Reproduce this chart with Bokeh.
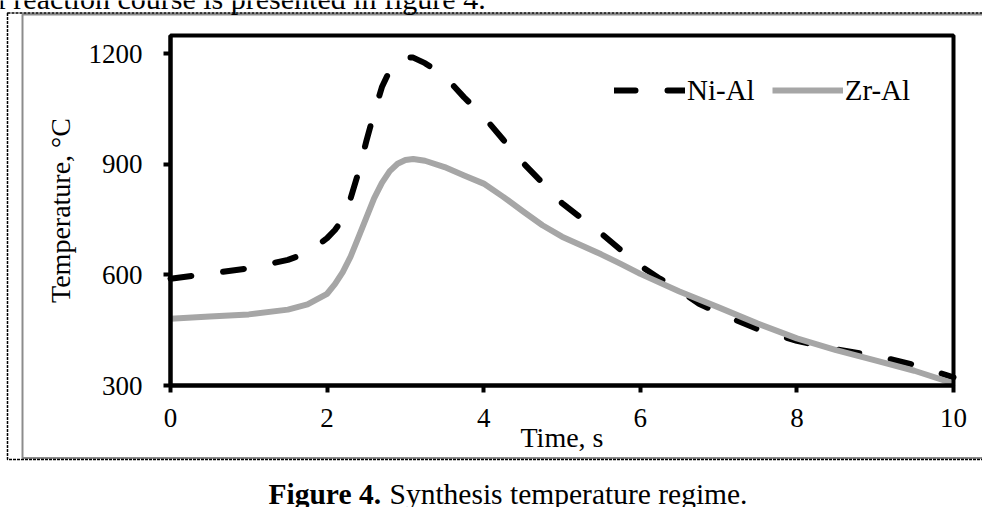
from math import pi

from bokeh.plotting import figure
from bokeh.models import (Range1d, FixedTicker, Legend, LegendItem, Label,
                          BoxAnnotation)
from bokeh.embed import file_html
from bokeh.resources import INLINE

# ---------------- data ----------------
time_nial = [0, 0.5, 1.0, 1.5, 1.75, 2.0, 2.1, 2.2, 2.3, 2.4, 2.5, 2.6, 2.7,
             2.8, 2.9, 3.0, 3.1, 3.25, 3.5, 3.75, 4.0, 4.25, 4.5, 4.75, 5.0,
             5.25, 5.5, 5.75, 6.0, 6.25, 6.5, 6.75, 7.0, 7.5, 8.0, 8.5, 9.0,
             9.5, 10.0]
temp_nial = [590, 604, 618, 641, 660, 700, 722, 752, 808, 878, 962, 1040, 1110,
             1155, 1180, 1190, 1190, 1175, 1140, 1082, 1030, 967, 905, 850, 795,
             754, 713, 668, 625, 590, 558, 522, 497, 453, 421, 398, 381,
             356, 322]

time_zral = [0, 0.5, 1.0, 1.5, 1.75, 2.0, 2.1, 2.2, 2.3, 2.4, 2.5, 2.6, 2.7,
             2.8, 2.9, 3.0, 3.1, 3.25, 3.5, 3.75, 4.0, 4.25, 4.5, 4.75, 5.0,
             5.25, 5.5, 5.75, 6.0, 6.5, 7.0, 7.5, 8.0, 8.5, 9.0, 9.5, 10.0]
temp_zral = [481, 487, 493, 506, 520, 549, 575, 608, 650, 702, 755, 808, 850,
             882, 902, 912, 915, 910, 893, 870, 848, 812, 773, 735, 704,
             680, 656, 630, 603, 555, 512, 468, 428, 396, 368, 340, 306]

x_limits = (0, 10)
y_limits = (300, 1250)
x_ticks = [0, 2, 4, 6, 8, 10]
y_ticks = [300, 600, 900, 1200]

series_names = ["Ni-Al", "Zr-Al"]
x_title = "Time, s"
y_title = "Temperature, \u00b0C"
caption_bold = "Figure 4."
caption_rest = "Synthesis temperature regime."
top_text = "l reaction course is presented in figure 4."

FONT = "Liberation Serif"

# ---------------- layout (pixels) ----------------
W, H = 982, 507
PL, PR, PT, PB = 170, 953, 35, 385     # chart plot-area edges in the picture
BASE_FIX = 9                           # label baseline correction (px)

# the Bokeh frame fills the whole canvas; map the plot area onto PL..PR/PT..PB
kx = (x_limits[1] - x_limits[0]) / (PR - PL)
ky = (y_limits[1] - y_limits[0]) / (PB - PT)
x_range = Range1d(x_limits[0] - PL * kx, x_limits[1] + (W - PR) * kx)
y_range = Range1d(y_limits[0] - (H - PB) * ky, y_limits[1] + PT * ky)

p = figure(width=W, height=H, output_backend="svg", toolbar_location=None,
           x_range=x_range, y_range=y_range,
           min_border=0, min_border_left=0, min_border_right=0,
           min_border_top=0, min_border_bottom=0,
           background_fill_color="white", border_fill_color="white")
p.title = None
p.xgrid.visible = False
p.ygrid.visible = False
p.outline_line_color = None


def sx(px):
    return px


def sy(py):
    return H - py


# ---------------- document frame ----------------
p.add_layout(BoxAnnotation(left=22, right=1010, top=sy(14), bottom=sy(457.5),
                           left_units="screen", right_units="screen",
                           top_units="screen", bottom_units="screen",
                           fill_alpha=0, line_color="#8c8c8c", line_alpha=1,
                           line_width=2, level="underlay"))
p.add_layout(BoxAnnotation(left=7, right=1010, top=sy(12.5), bottom=sy(459),
                           left_units="screen", right_units="screen",
                           top_units="screen", bottom_units="screen",
                           fill_alpha=0, line_color="black", line_alpha=1,
                           line_width=1.5, line_dash="3 1", level="underlay"))

# ---------------- axes (placed at the plot-area edges) ----------------
for ax, ticks, loc, lim in ((p.xaxis[0], x_ticks, y_limits[0], x_limits),
                            (p.yaxis[0], y_ticks, x_limits[0], y_limits)):
    ax.fixed_location = loc
    ax.bounds = lim
    ax.ticker = FixedTicker(ticks=ticks)
    ax.minor_tick_line_color = None
    ax.major_tick_in = 0
    ax.major_tick_out = 7
    ax.major_tick_line_width = 4
    ax.major_tick_line_color = "black"
    ax.axis_line_width = 4
    ax.axis_line_color = "black"
    ax.major_label_text_font = FONT
    ax.major_label_text_font_size = "27px"
    ax.major_label_text_color = "black"

p.xaxis[0].major_label_standoff = 16
p.yaxis[0].major_label_standoff = 21

# plot-area border
p.add_layout(BoxAnnotation(left=x_limits[0], right=x_limits[1],
                           bottom=y_limits[0], top=y_limits[1],
                           fill_alpha=0, line_color="black", line_alpha=1,
                           line_width=4))

# ---------------- series ----------------
r1 = p.line(time_nial, temp_nial, line_color="black", line_width=6,
            line_dash="21 32", line_cap="round", line_join="round")
r2 = p.line(time_zral, temp_zral, line_color="#a6a6a6", line_width=6,
            line_cap="butt", line_join="round")

legend = Legend(items=[LegendItem(label=series_names[0], renderers=[r1]),
                       LegendItem(label=series_names[1], renderers=[r2])],
                orientation="horizontal", location=(614, sy(107)),
                glyph_width=71, glyph_height=34, label_height=34,
                label_standoff=2, spacing=17, padding=0, margin=0,
                border_line_color=None, background_fill_alpha=0,
                label_text_font=FONT, label_text_font_size="29px",
                label_text_color="black")
p.add_layout(legend)

# ---------------- axis titles ----------------
p.add_layout(Label(x=sx((PL + PR) / 2), y=sy(446 - BASE_FIX), x_units="screen",
                   y_units="screen", text=x_title, text_font=FONT,
                   text_font_size="28px", text_color="black",
                   text_align="center", text_baseline="alphabetic"))
p.add_layout(Label(x=sx(69 - BASE_FIX), y=sy((PT + PB) / 2), x_units="screen",
                   y_units="screen", text=y_title, text_font=FONT,
                   text_font_size="28px", text_color="black", angle=pi / 2,
                   text_align="center", text_baseline="alphabetic"))

# ---------------- texts outside the chart ----------------
p.add_layout(Label(x=sx(-3), y=sy(7 - BASE_FIX), x_units="screen",
                   y_units="screen", text=top_text, text_font=FONT,
                   text_font_size="30px", text_color="black",
                   text_align="left", text_baseline="alphabetic"))
p.add_layout(Label(x=sx(268), y=sy(502 - BASE_FIX), x_units="screen",
                   y_units="screen", text=caption_bold, text_font=FONT,
                   text_font_size="29.5px", text_font_style="bold",
                   text_color="black", text_align="left",
                   text_baseline="alphabetic"))
p.add_layout(Label(x=sx(389), y=sy(502 - BASE_FIX), x_units="screen",
                   y_units="screen", text=caption_rest, text_font=FONT,
                   text_font_size="29.5px", text_color="black",
                   text_align="left", text_baseline="alphabetic"))

open("out.html", "w").write(file_html(p, INLINE))
